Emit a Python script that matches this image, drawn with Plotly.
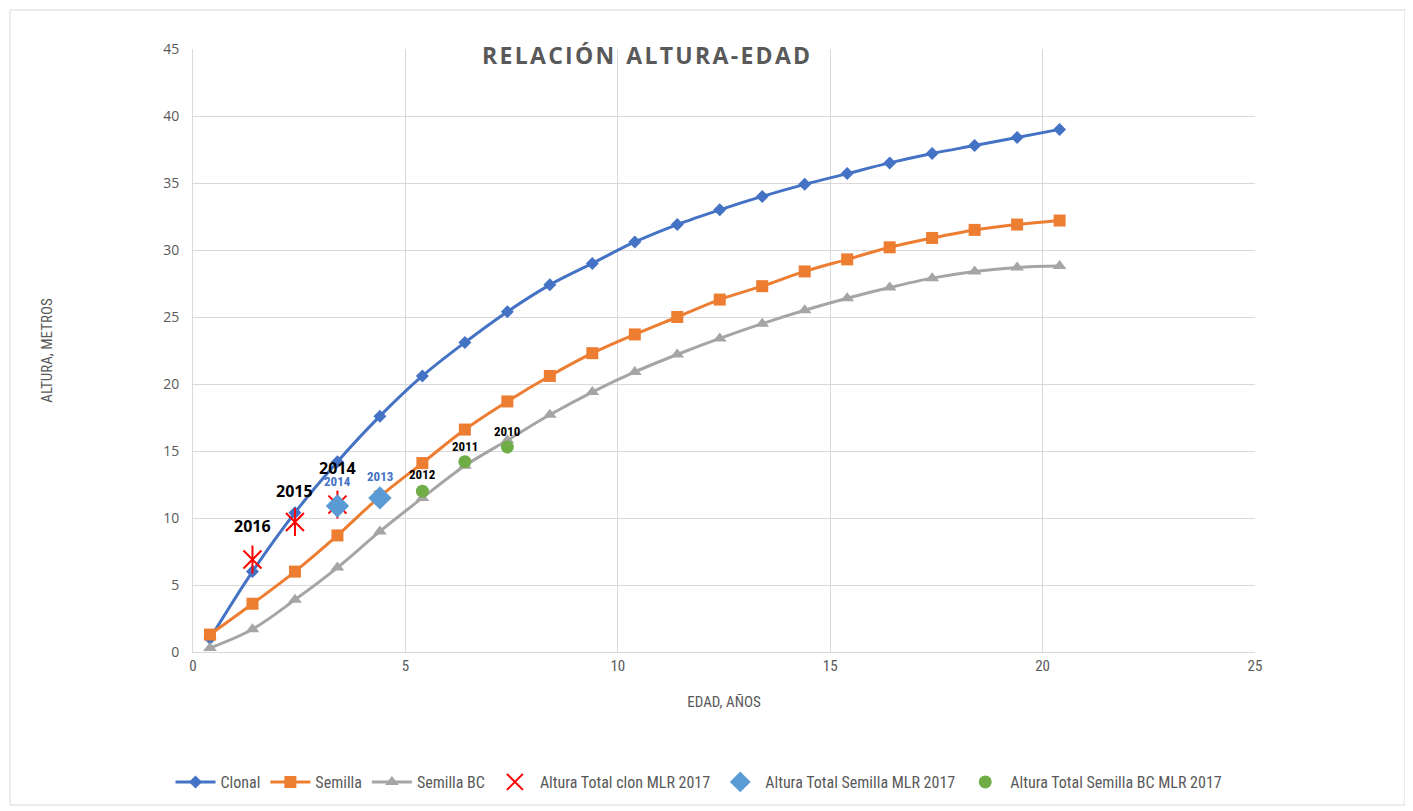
import plotly.graph_objects as go

edad = [0.4 + i for i in range(21)]
clonal = [1.0, 6.0, 10.4, 14.2, 17.6, 20.6, 23.1, 25.4, 27.4, 29.0, 30.6, 31.9, 33.0, 34.0,
          34.9, 35.7, 36.5, 37.2, 37.8, 38.4, 39.0]
semilla = [1.3, 3.6, 6.0, 8.7, 11.6, 14.1, 16.6, 18.7, 20.6, 22.3, 23.7, 25.0, 26.3, 27.3,
           28.4, 29.3, 30.2, 30.9, 31.5, 31.9, 32.2]
semilla_bc = [0.3, 1.7, 3.9, 6.3, 9.0, 11.5, 13.9, 15.8, 17.7, 19.4, 20.9, 22.2, 23.4, 24.5,
              25.5, 26.4, 27.2, 27.9, 28.4, 28.7, 28.8]

clon_mlr_x = [1.4, 2.4, 3.4]
clon_mlr_y = [6.9, 9.7, 11.0]
clon_mlr_lbl = ["2016", "2015", "2014"]

sem_mlr_x = [3.4, 4.4]
sem_mlr_y = [10.9, 11.5]
sem_mlr_lbl = ["2014", "2013"]

bc_mlr_x = [5.4, 6.4, 7.4]
bc_mlr_y = [12.0, 14.2, 15.3]
bc_mlr_lbl = ["2012", "2011", "2010"]

narrow = "Liberation Sans Narrow, Arial Narrow, Roboto Condensed, Roboto, sans-serif"
gray = "#595959"

# page body offset of 8 px is compensated in margins
L, R, T, B = 185, 166, 41, 167
PW = 1413 - L - R
PH = 811 - T - B


def px(xp):
    return (xp - 8 - L) / PW


def py(yp):
    return (811 - B - (yp - 8)) / PH


fig = go.Figure()
fig.add_trace(go.Scatter(x=edad, y=clonal, name="Clonal", mode="lines+markers",
                         line=dict(color="#4472C4", width=3, shape="spline"),
                         marker=dict(symbol="diamond", size=10, color="#4472C4")))
fig.add_trace(go.Scatter(x=edad, y=semilla, name="Semilla", mode="lines+markers",
                         line=dict(color="#ED7D31", width=3, shape="spline"),
                         marker=dict(symbol="square", size=12, color="#ED7D31")))
fig.add_trace(go.Scatter(x=edad, y=semilla_bc, name="Semilla BC", mode="lines+markers",
                         line=dict(color="#A5A5A5", width=3, shape="spline"),
                         marker=dict(symbol="triangle-up", size=12, color="#A5A5A5")))
fig.add_trace(go.Scatter(x=clon_mlr_x, y=clon_mlr_y, name="Altura Total clon MLR 2017", mode="markers",
                         marker=dict(symbol="x-thin-open", size=18, color="#FF0000",
                                     line=dict(color="#FF0000", width=2))))
fig.add_trace(go.Scatter(x=clon_mlr_x, y=clon_mlr_y, showlegend=False, mode="markers", hoverinfo="skip",
                         marker=dict(symbol="line-ns-open", size=20, color="#FF0000",
                                     line=dict(color="#FF0000", width=2))))
fig.add_trace(go.Scatter(x=sem_mlr_x, y=sem_mlr_y, name="Altura Total Semilla MLR 2017", mode="markers",
                         marker=dict(symbol="diamond", size=18, color="#5B9BD5")))
fig.add_trace(go.Scatter(x=bc_mlr_x, y=bc_mlr_y, name="Altura Total Semilla BC MLR 2017", mode="markers",
                         marker=dict(symbol="circle", size=13, color="#70AD47")))

annotations = []
for x, y, t, dy in zip(clon_mlr_x, clon_mlr_y, clon_mlr_lbl, [34, 31, 37]):
    annotations.append(dict(x=x, y=y, text="<b>%s</b>" % t, showarrow=False, yshift=dy,
                            font=dict(family="Open Sans, sans-serif", size=16, color="#000000")))
for x, y, t, dy in zip(sem_mlr_x, sem_mlr_y, sem_mlr_lbl, [24, 21]):
    annotations.append(dict(x=x, y=y, text="<b>%s</b>" % t, showarrow=False, yshift=dy,
                            font=dict(family=narrow, size=13, color="#4472C4")))
for x, y, t, dy in zip(bc_mlr_x, bc_mlr_y, bc_mlr_lbl, [17, 15, 15]):
    annotations.append(dict(x=x, y=y, text="<b>%s</b>" % t, showarrow=False, yshift=dy,
                            font=dict(family=narrow, size=13, color="#000000")))
annotations.append(dict(xref="paper", yref="paper", x=px(646), y=py(55), xanchor="center", yanchor="middle",
                        text="<b>R E L A C I Ó N   A L T U R A - E D A D</b>".replace(" ", "\u200a").replace("\u200a\u200a\u200a", "  "),
                        showarrow=False,
                        font=dict(family="Open Sans, sans-serif", size=23, color=gray)))

fig.update_layout(
    width=1413, height=811,
    margin=dict(l=L, r=R, t=T, b=B),
    paper_bgcolor="white", plot_bgcolor="white",
    showlegend=True,
    legend=dict(orientation="h", x=px(699), xanchor="center", y=py(765), yanchor="top",
                font=dict(family=narrow, size=16, color=gray), itemwidth=40),
    annotations=annotations,
    shapes=[dict(type="rect", xref="paper", yref="paper",
                 x0=px(10), x1=px(1405), y0=py(805), y1=py(10),
                 line=dict(color="#D9D9D9", width=1), layer="below")],
)
fig.update_xaxes(range=[0, 25], dtick=5, showgrid=True, gridcolor="#D9D9D9", gridwidth=1,
                 showline=True, linecolor="#D9D9D9", zeroline=False,
                 tickfont=dict(family=narrow, size=15, color=gray), ticks="",
                 title=dict(text="EDAD, AÑOS", font=dict(family=narrow, size=15, color=gray), standoff=22))
fig.update_yaxes(range=[0, 45], dtick=5, showgrid=True, gridcolor="#D9D9D9", gridwidth=1,
                 showline=True, linecolor="#D9D9D9", zeroline=False,
                 tickfont=dict(family="Open Sans, sans-serif", size=14, color=gray), ticks="",
                 ticklabelstandoff=10,
                 title=dict(text="ALTURA, METROS", font=dict(family=narrow, size=15, color=gray), standoff=106))

fig.write_html("out.html")
